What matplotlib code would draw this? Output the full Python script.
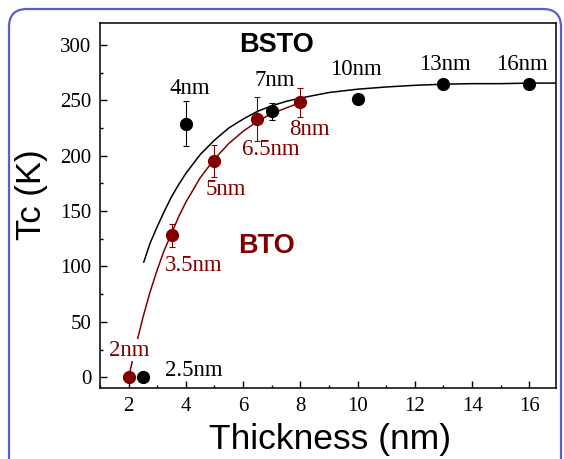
import matplotlib
matplotlib.use("Agg")
import matplotlib.pyplot as plt
from matplotlib.patches import FancyBboxPatch
from matplotlib.ticker import MultipleLocator

# BSTO films (black)
bsto_t = [2.5, 4, 7, 10, 13, 16]
bsto_tc = [0, 229, 240, 251.5, 265, 265]
bsto_err = [0, 20, 7.5, 0, 4, 0]
bsto_labels = ["2.5nm", "4nm", "7nm", "10nm", "13nm", "16nm"]
bsto_label_x = [4.27, 4.13, 7.11, 9.94, 13.04, 15.74]
bsto_label_y = [1.5, 255.5, 262.5, 273, 277.6, 277.6]

# BTO films (dark red)
bto_t = [2, 3.5, 5, 6.5, 8]
bto_tc = [0, 128, 195, 233, 248]
bto_err = [0, 10, 14.5, 20, 13]
bto_labels = ["2nm", "3.5nm", "5nm", "6.5nm", "8nm"]
bto_label_x = [2.03, 4.27, 5.38, 6.98, 8.33]
bto_label_y = [19.5, 96, 164.4, 200.4, 218.5]

# fitted curves
bsto_fit_t = [2.53, 2.75, 3.0, 3.25, 3.5, 3.75, 4.0, 4.5, 5.0, 5.5, 6.0, 6.5,
              7.0, 7.5, 8.0, 9.0, 10.0, 11.0, 12.0, 13.0, 14.0, 15.0, 16.0, 16.93]
bsto_fit_tc = [104, 121, 136, 150, 163, 174, 184, 201, 214, 225, 233, 240,
               245, 249, 252, 257, 260, 262, 263.5, 264.5, 265, 265, 265.5, 265.5]
bto_fit_t = [2.0, 2.25, 2.5, 2.75, 3.0, 3.25, 3.5, 3.75, 4.0, 4.5, 5.0, 5.5,
             6.0, 6.5, 7.0, 7.5, 8.0]
bto_fit_tc = [0, 28, 54, 77, 97, 115, 130, 145, 158, 180, 197, 211,
              222, 231, 238, 243, 248]

red = "#800000"
serif = "Liberation Serif"
sans = "Liberation Sans"

fig = plt.figure(figsize=(5.64, 4.59), dpi=100)

# rounded blue frame around the whole figure
bg = fig.add_axes([0, 0, 1, 1], zorder=-1)
bg.set_xlim(0, 564)
bg.set_ylim(459, 0)
bg.axis("off")
bg.add_patch(FancyBboxPatch((9, 9), 552, 470, boxstyle="round,pad=0,rounding_size=18",
                            fc="white", ec="#5b5bd6", lw=1.6))

ax = fig.add_axes([0.1773, 0.154, 0.8085, 0.7965])
ax.patch.set_alpha(0)

# fit lines
ax.plot(bsto_fit_t, bsto_fit_tc, color="black", lw=1.1, zorder=2)
ax.plot(bto_fit_t, bto_fit_tc, color=red, lw=1.1, zorder=2)

# data points with error bars
ax.errorbar(bsto_t, bsto_tc, yerr=bsto_err, fmt="o", color="black", ms=8.5,
            elinewidth=0.8, capsize=2.4, capthick=0.8, zorder=4)
ax.errorbar(bto_t, bto_tc, yerr=bto_err, fmt="o", color=red, ms=8.5,
            elinewidth=0.8, capsize=2.4, capthick=0.8, zorder=5)

for x, y, s in zip(bsto_label_x, bsto_label_y, bsto_labels):
    ax.text(x, y, s, ha="center", va="baseline", fontsize=16.5, family=serif,
            color="black", zorder=6)
for x, y, s in zip(bto_label_x, bto_label_y, bto_labels):
    ax.text(x, y, s, ha="center", va="baseline", fontsize=16.5, family=serif,
            color=red, zorder=6,
            bbox=dict(fc="white", ec="none", pad=0.3) if s == "2nm" else None)

ax.text(7.17, 293.5, "BSTO", ha="center", va="baseline", fontsize=19.5,
        fontweight="bold", family=sans, color="black")
ax.text(6.8, 112, "BTO", ha="center", va="baseline", fontsize=19.5,
        fontweight="bold", family=sans, color=red)

ax.set_xlim(1, 16.93)
ax.set_ylim(-10, 320)
ax.xaxis.set_major_locator(MultipleLocator(2))
ax.xaxis.set_minor_locator(MultipleLocator(1))
ax.yaxis.set_major_locator(MultipleLocator(50))
ax.yaxis.set_minor_locator(MultipleLocator(25))
ax.tick_params(which="both", direction="in", top=False, right=False, width=1.0)
ax.tick_params(which="major", length=5, labelsize=15, pad=6)
ax.tick_params(which="minor", length=2.5)
for lab in ax.get_xticklabels() + ax.get_yticklabels():
    lab.set_family(serif)
for sp in ax.spines.values():
    sp.set_linewidth(1.1)

ax.set_xlabel("Thickness (nm)", fontsize=25.5, family=sans)
ax.set_ylabel("Tc (K)", fontsize=25, family=sans)
ax.xaxis.set_label_coords(0.504, -0.095)
ax.yaxis.set_label_coords(-0.115, 0.53)

fig.savefig("out.png", dpi=100)
